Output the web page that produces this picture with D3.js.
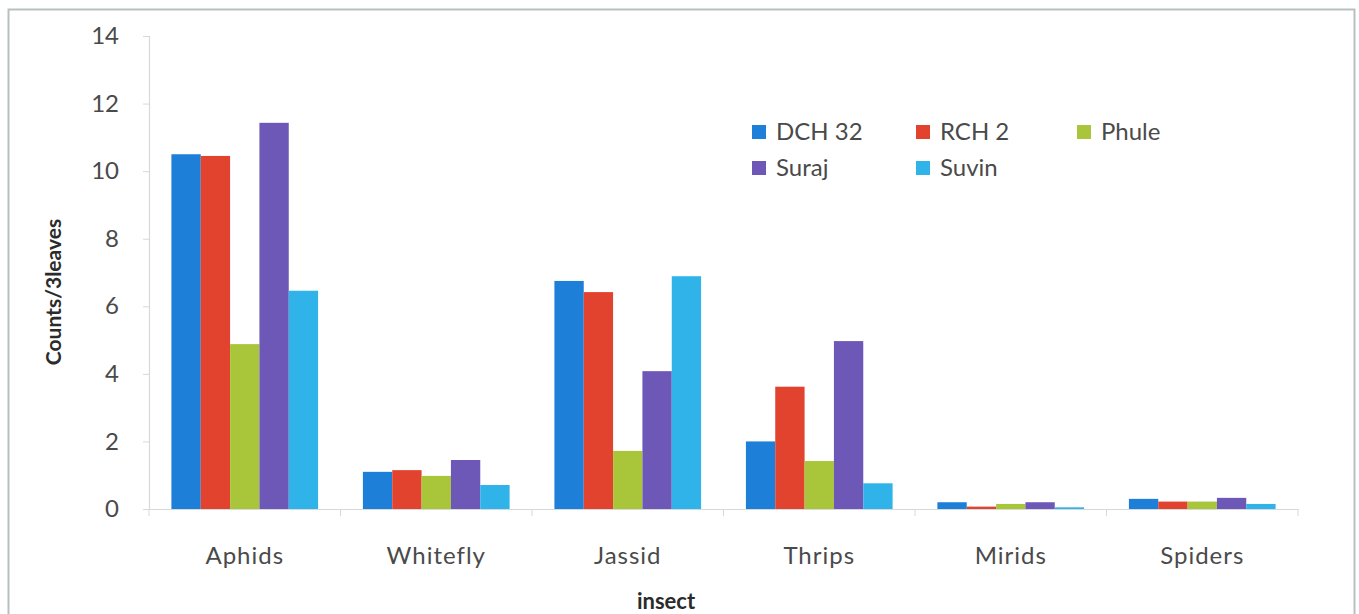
<!DOCTYPE html>
<html>
<head>
<meta charset="utf-8">
<script src="https://cdn.jsdelivr.net/npm/d3@7"></script>
<style>
  html, body { margin: 0; padding: 0; background: #fff; }
  svg { display: block; }
  text { font-family: Lato, "Open Sans", sans-serif; }
</style>
</head>
<body>
<svg id="chart" width="1359" height="614"></svg>
<script>
// Insect counts per 3 leaves for five cotton genotypes
const categories = ["Aphids", "Whitefly", "Jassid", "Thrips", "Mirids", "Spiders"];
const seriesNames = ["DCH 32", "RCH 2", "Phule", "Suraj", "Suvin"];
const dch32 = [10.5, 1.1, 6.75, 2.0, 0.2, 0.3];
const rch2  = [10.45, 1.15, 6.42, 3.62, 0.07, 0.22];
const phule = [4.88, 0.98, 1.72, 1.42, 0.15, 0.22];
const suraj = [11.43, 1.45, 4.08, 4.97, 0.2, 0.33];
const suvin = [6.46, 0.71, 6.89, 0.76, 0.05, 0.15];
const yTicks = [0, 2, 4, 6, 8, 10, 12, 14];
const colors = ["#1e7fd8", "#e2432e", "#a9c63b", "#6d58b8", "#2fb3e8"];

const seriesValues = [dch32, rch2, phule, suraj, suvin];
const rows = categories.map((c, i) => ({
  category: c,
  values: seriesNames.map((s, j) => ({ series: s, value: seriesValues[j][i] }))
}));

const svg = d3.select("#chart");

// outer chart frame
svg.append("rect")
  .attr("x", 8.5).attr("y", 9.5)
  .attr("width", 1346).attr("height", 640)
  .attr("fill", "none")
  .attr("stroke", "#b9bfbf")
  .attr("stroke-width", 2);

const plot = { left: 149, right: 1298, top: 36, bottom: 509 };

const x0 = d3.scaleBand()
  .domain(categories)
  .range([plot.left, plot.right])
  .paddingInner(0.234)
  .paddingOuter(0.117);

const x1 = d3.scaleBand()
  .domain(seriesNames)
  .range([0, x0.bandwidth()])
  .padding(0);

const y = d3.scaleLinear()
  .domain([0, 14])
  .range([plot.bottom, plot.top]);

const color = d3.scaleOrdinal().domain(seriesNames).range(colors);

// y axis
const yAxis = svg.append("g")
  .attr("transform", `translate(${plot.left},0)`)
  .call(d3.axisLeft(y).tickValues(yTicks).tickSize(6).tickPadding(24).tickFormat(d3.format("d")));
yAxis.select(".domain").attr("stroke", "#d6d9d9").attr("stroke-width", 1.2);
yAxis.selectAll(".tick line").attr("stroke", "#d6d9d9");
yAxis.selectAll(".tick text")
  .attr("fill", "#4a4a4a")
  .style("font-size", "24px")
  .style("font-family", "Lato, sans-serif");

// bars
const groups = svg.append("g")
  .selectAll("g")
  .data(rows)
  .join("g")
  .attr("transform", d => `translate(${x0(d.category)},0)`);

groups.selectAll("rect")
  .data(d => d.values)
  .join("rect")
  .attr("x", d => x1(d.series))
  .attr("width", x1.bandwidth())
  .attr("y", d => y(d.value))
  .attr("height", d => y(0) - y(d.value))
  .attr("fill", d => color(d.series));

// x axis with tick marks at category boundaries
const xAxis = svg.append("g")
  .attr("transform", `translate(0,${plot.bottom})`)
  .call(d3.axisBottom(x0).tickSize(0).tickPadding(38));
xAxis.select(".domain").attr("stroke", "#d6d9d9").attr("stroke-width", 1.2);
xAxis.selectAll(".tick text")
  .attr("fill", "#4a4a4a")
  .style("font-size", "24px")
  .style("letter-spacing", "1px")
  .style("font-family", "Lato, sans-serif");

const step = x0.step();
const boundaries = d3.range(categories.length + 1).map(i => plot.left + i * step);
xAxis.selectAll(".boundary")
  .data(boundaries)
  .join("line")
  .attr("class", "boundary")
  .attr("x1", d => d).attr("x2", d => d)
  .attr("y1", 0).attr("y2", 7)
  .attr("stroke", "#d6d9d9");

// axis titles
svg.append("text")
  .attr("transform", "translate(61,292) rotate(-90)")
  .attr("text-anchor", "middle")
  .attr("fill", "#2b2b2b")
  .style("font-size", "21px")
  .style("font-weight", "700")
  .text("Counts/3leaves");

svg.append("text")
  .attr("x", 666).attr("y", 609)
  .attr("text-anchor", "middle")
  .attr("fill", "#2b2b2b")
  .style("font-size", "22px")
  .style("font-weight", "700")
  .text("insect");

// legend: three columns, two rows
const legendCols = [752, 916, 1077];
const legendRows = [132, 168];
const legend = svg.append("g")
  .selectAll("g")
  .data(seriesNames)
  .join("g")
  .attr("transform", (d, i) => `translate(${legendCols[i % 3]},${legendRows[Math.floor(i / 3)]})`);

legend.append("rect")
  .attr("x", 0).attr("y", -7)
  .attr("width", 14).attr("height", 14)
  .attr("fill", d => color(d));

legend.append("text")
  .attr("x", 24).attr("y", 0)
  .attr("dy", "0.35em")
  .attr("fill", "#4a4a4a")
  .style("font-size", "24px")
  .text(d => d);
</script>
</body>
</html>
